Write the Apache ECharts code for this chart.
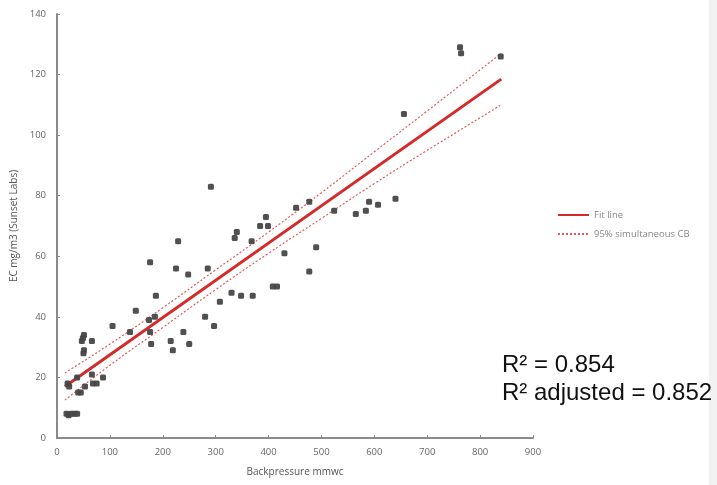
<!DOCTYPE html>
<html>
<head>
<meta charset="utf-8">
<script src="https://cdn.jsdelivr.net/npm/echarts@6/dist/echarts.min.js"></script>
<style>
html,body{margin:0;padding:0;background:#fff;}
#chart{width:717px;height:485px;}
</style>
</head>
<body>
<div id="chart"></div>
<script>
// Observed points: [backpressure mmwc, EC mg/m3]
const backpressure = [18,22,27,33,38,20,23,38,40,45,53,47,49,51,50,51,66,66,68,75,87,105,138,149,176,174,185,176,178,187,215,219,225,229,239,248,250,280,285,291,297,308,330,336,340,348,370,368,384,395,399,408,416,430,452,477,477,490,524,565,584,590,607,640,656,762,764,839];
const ecValues =     [8,7.5,8,8,8,18,17,20,15,15,17,32,33,34,28,29,32,21,18,18,20,37,35,42,58,39,40,35,31,47,32,29,56,65,35,54,31,40,56,83,37,45,48,66,68,47,47,65,70,73,70,50,50,61,76,78,55,63,75,74,75,78,77,79,107,129,127,126];

// Fit line and 95% simultaneous confidence band, read at these x positions
const fitX = [15, 840];
const fitY = [17, 118.5];
const cbX = [15, 100, 200, 300, 400, 500, 600, 700, 840];
const cbUpper = [21.5, 31, 43, 55.5, 68, 81, 94.5, 108, 127];
const cbLower = [12.5, 24, 36.5, 49, 61, 72.5, 84, 95, 110];

const legendNames = ['Fit line', '95% simultaneous CB'];
const statLines = ['R² = 0.854', 'R² adjusted = 0.852'];

const pts = backpressure.map((x, i) => [x, ecValues[i]]);
const fit = fitX.map((x, i) => [x, fitY[i]]);
const up = cbX.map((x, i) => [x, cbUpper[i]]);
const lo = cbX.map((x, i) => [x, cbLower[i]]);

const chart = echarts.init(document.getElementById('chart'));
const axisCol = '#8a8a8a';
const labCol = '#666';
const cbStyle = {color: '#e25a5a', width: 1.2, type: [2, 2]};
chart.setOption({
  animation: false,
  backgroundColor: '#fff',
  grid: {left: 57, right: 184, top: 14, bottom: 47},
  xAxis: {
    type: 'value', min: 0, max: 900, interval: 100,
    name: 'Backpressure mmwc', nameLocation: 'middle', nameGap: 29,
    nameTextStyle: {fontFamily: 'Open Sans', fontSize: 10, color: '#555'},
    axisLine: {show: true, onZero: false, lineStyle: {color: axisCol, width: 2}},
    axisTick: {show: true, inside: true, length: 3, lineStyle: {color: axisCol}},
    axisLabel: {fontFamily: 'Open Sans', fontSize: 9.5, color: labCol, margin: 9},
    splitLine: {show: false}
  },
  yAxis: {
    type: 'value', min: 0, max: 140, interval: 20,
    name: 'EC mg/m3 (Sunset Labs)', nameLocation: 'middle', nameGap: 32, nameRotate: 90,
    nameTextStyle: {fontFamily: 'Open Sans', fontSize: 10, color: '#555'},
    axisLine: {show: true, onZero: false, lineStyle: {color: axisCol, width: 2}},
    axisTick: {show: true, inside: true, length: 3, lineStyle: {color: axisCol}},
    axisLabel: {fontFamily: 'Open Sans', fontSize: 9.5, color: labCol, margin: 11},
    splitLine: {show: false}
  },
  legend: {
    orient: 'vertical', left: 552, top: 205, itemGap: 9,
    itemWidth: 31, itemHeight: 8,
    data: legendNames,
    itemStyle: {opacity: 0},
    textStyle: {fontFamily: 'Open Sans', fontSize: 9.5, color: '#888'}
  },
  series: [
    {
      type: 'scatter', name: 'data', data: pts,
      symbol: 'roundRect', symbolSize: 6,
      itemStyle: {color: '#474747', opacity: 0.95}, z: 5
    },
    {
      type: 'line', name: legendNames[0], data: fit, symbol: 'none',
      itemStyle: {color: '#d42a2a'},
      lineStyle: {color: '#d42a2a', width: 3}, z: 4
    },
    {
      type: 'line', name: legendNames[1], data: up, symbol: 'none', smooth: true,
      itemStyle: {color: '#e25a5a'},
      lineStyle: cbStyle, z: 3
    },
    {
      type: 'line', name: legendNames[1], data: lo, symbol: 'none', smooth: true,
      itemStyle: {color: '#e25a5a'},
      lineStyle: cbStyle, z: 3
    }
  ],
  graphic: [
    {type: 'rect', left: 709, top: 0, shape: {width: 8, height: 485}, style: {fill: '#f2f2f2'}, silent: true},
    {type: 'text', left: 502, top: 353, style: {text: statLines[0], font: '24px "Liberation Sans"', fill: '#111'}},
    {type: 'text', left: 502, top: 381, style: {text: statLines[1], font: '24px "Liberation Sans"', fill: '#111'}}
  ]
});
</script>
</body>
</html>
